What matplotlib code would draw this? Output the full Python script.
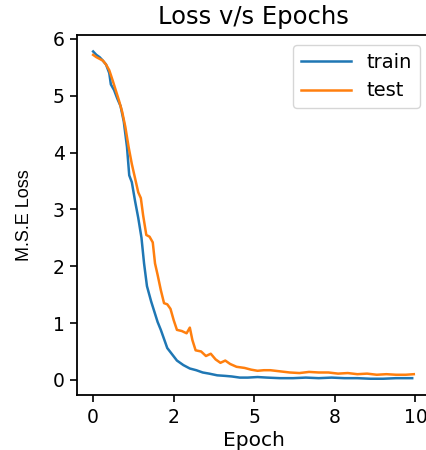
import matplotlib
matplotlib.use("Agg")
import matplotlib.pyplot as plt

# epochs and loss values
train_epoch = [0.0, 0.1, 0.2, 0.3, 0.4, 0.5, 0.55, 0.65, 0.75, 0.85, 0.95, 1.05,
               1.12, 1.2, 1.3, 1.4, 1.5, 1.58, 1.67, 1.8, 1.9, 2.0, 2.1, 2.2,
               2.3, 2.45, 2.6, 2.8, 3.0, 3.2, 3.4, 3.6, 3.85, 4.1, 4.3, 4.55,
               4.8, 5.1, 5.4, 5.8, 6.2, 6.6, 7.0, 7.4, 7.8, 8.2, 8.6, 9.0,
               9.4, 9.9]
train_loss = [5.78, 5.72, 5.68, 5.62, 5.55, 5.4, 5.2, 5.1, 4.95, 4.82, 4.55, 4.1,
              3.6, 3.48, 3.15, 2.85, 2.5, 2.05, 1.65, 1.38, 1.2, 1.02, 0.88, 0.72,
              0.56, 0.45, 0.34, 0.26, 0.2, 0.17, 0.13, 0.11, 0.08, 0.07, 0.06, 0.04,
              0.04, 0.05, 0.04, 0.03, 0.03, 0.04, 0.03, 0.04, 0.03, 0.03, 0.02, 0.02,
              0.03, 0.03]

test_epoch = [0.0, 0.1, 0.2, 0.3, 0.4, 0.5, 0.6, 0.7, 0.8, 0.9, 1.0, 1.1,
              1.2, 1.3, 1.4, 1.48, 1.55, 1.65, 1.75, 1.85, 1.92, 2.0, 2.1, 2.2,
              2.3, 2.4, 2.5, 2.6, 2.75, 2.9, 3.0, 3.08, 3.18, 3.35, 3.5, 3.65,
              3.8, 3.95, 4.1, 4.25, 4.45, 4.7, 4.9, 5.1, 5.3, 5.5, 5.8, 6.1,
              6.4, 6.7, 7.0, 7.3, 7.6, 7.9, 8.2, 8.5, 8.8, 9.1, 9.4, 9.7, 9.95]
test_loss = [5.72, 5.68, 5.65, 5.62, 5.55, 5.45, 5.28, 5.1, 4.92, 4.72, 4.45, 4.1,
             3.8, 3.55, 3.3, 3.2, 2.9, 2.55, 2.52, 2.42, 2.05, 1.85, 1.58, 1.35,
             1.33, 1.25, 1.05, 0.88, 0.86, 0.82, 0.92, 0.7, 0.52, 0.5, 0.42, 0.46,
             0.36, 0.3, 0.34, 0.28, 0.23, 0.21, 0.18, 0.16, 0.17, 0.17, 0.15, 0.13,
             0.12, 0.14, 0.13, 0.13, 0.11, 0.12, 0.10, 0.11, 0.09, 0.10, 0.09, 0.09, 0.10]

xtick_pos = [0, 2.5, 5, 7.5, 10]
xtick_labels = ["0", "2", "5", "8", "10"]

fig = plt.figure(figsize=(4.26, 4.5), dpi=100)
ax = fig.add_axes([0.181, 0.122, 0.828, 0.8])

ax.plot(train_epoch, train_loss, color="#1f77b4", linewidth=1.8, label="train")
ax.plot(test_epoch, test_loss, color="#ff7f0e", linewidth=1.8, label="test")

ax.set_xticks(xtick_pos)
ax.set_xticklabels(xtick_labels)
ax.set_yticks([0, 1, 2, 3, 4, 5, 6])

ax.set_title("Loss v/s Epochs", fontsize=17.5, pad=8)
ax.set_xlabel("Epoch", fontsize=14.5, labelpad=3)
ax.set_ylabel("M.S.E Loss", fontsize=13,
              family=["Liberation Sans", "DejaVu Sans"])
ax.yaxis.set_label_coords(-0.125, 0.5)

ax.tick_params(labelsize=13.5, length=5, width=1.2, pad=4)
for spine in ax.spines.values():
    spine.set_linewidth(1.3)

ax.legend(fontsize=14, loc="upper right", handlelength=2.6)

plt.savefig("out.png", dpi=100)
